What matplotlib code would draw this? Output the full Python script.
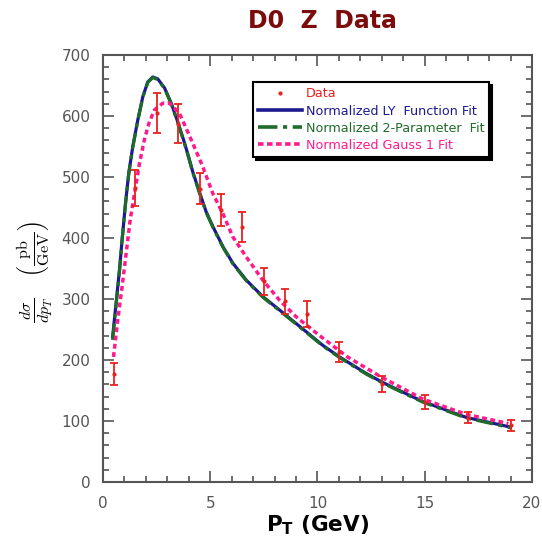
import matplotlib
matplotlib.use("Agg")
import matplotlib.pyplot as plt
from matplotlib.lines import Line2D

plt.rcParams['lines.scale_dashes'] = False

# Data points
data_x = [0.5, 1.5, 2.5, 3.5, 4.5, 5.5, 6.5, 7.5, 8.5, 9.5, 11, 13, 15, 17, 19]
data_y = [177, 482, 605, 587, 481, 446, 418, 329, 296, 275, 213, 161, 131, 105, 93]
data_err = [18, 29, 33, 32, 25, 26, 25, 22, 20, 21, 16, 13, 12, 9, 9]

# Normalized LY function fit
ly_x = [0.45, 0.61, 0.77, 0.89, 1.05, 1.20, 1.39, 1.62, 1.86, 2.09, 2.32, 2.55, 2.87,
        3.18, 3.49, 3.80, 4.0, 4.19, 4.5, 4.81, 5.12, 5.59, 6.05, 6.68, 7.45, 8.23,
        9.0, 10.25, 11.03, 12.27, 13.0, 13.82, 14.91, 15.38, 16.93, 18.49, 19.0]
ly_y = [238, 293, 348, 397, 457, 506, 550, 593, 632, 656, 664, 661, 646,
        621, 590, 556, 532, 508, 475, 443, 419, 386, 359, 331, 304, 282,
        260, 224, 205, 178, 164, 150, 132, 126, 106, 94, 90]

# Normalized 2-parameter fit (practically identical to LY)
tp_x = [0.45, 0.61, 0.77, 0.89, 1.05, 1.20, 1.39, 1.62, 1.86, 2.09, 2.32, 2.55, 2.87,
        3.18, 3.49, 3.80, 4.0, 4.19, 4.5, 4.81, 5.12, 5.59, 6.05, 6.68, 7.45, 8.23,
        9.0, 10.25, 11.03, 12.27, 13.0, 13.82, 14.91, 15.38, 16.93, 18.49, 19.0]
tp_y = [233, 290, 346, 396, 456, 505, 549, 592, 631, 655, 663, 660, 645,
        620, 589, 555, 531, 507, 474, 442, 418, 385, 358, 330, 303, 281,
        259, 223, 204, 177, 163, 149, 131, 125, 105, 93, 89]

# Normalized Gauss 1 fit
g_x = [0.49, 0.69, 0.89, 1.08, 1.27, 1.47, 1.70, 1.93, 2.14, 2.40, 2.79, 3.10, 3.57,
       3.95, 4.19, 4.65, 5.12, 5.59, 6.05, 6.68, 7.45, 8.23, 9.0, 10.1, 11.4, 12.98,
       14.91, 16.93, 18.9]
g_y = [205, 266, 320, 375, 430, 473, 522, 561, 588, 610, 621, 621, 604,
       574, 555, 517, 473, 440, 402, 369, 331, 298, 271, 240, 205, 172,
       136, 111, 96]

fig = plt.figure(figsize=(5.42, 5.49), dpi=100)
ax = fig.add_axes([0.190, 0.122, 0.7915, 0.7778])

red = '#e8211f'
navy = '#1c1a8e'
green = '#1f6b2a'
pink = '#ff1a8c'

ax.plot(ly_x, ly_y, color=navy, lw=2.3, solid_joinstyle='round', zorder=3)
ax.plot(tp_x, tp_y, color=green, lw=2.3, dashes=[12, 4, 3, 4], zorder=4)
ax.plot(g_x, g_y, color=pink, lw=2.5, dashes=[3.5, 2.5], zorder=5)
ax.errorbar(data_x, data_y, yerr=data_err, fmt='.', color=red, ms=4,
            elinewidth=1.3, capsize=3, capthick=1.3, zorder=6)

ax.set_xlim(0, 20)
ax.set_ylim(0, 700)
ax.set_xticks([0, 5, 10, 15, 20])
ax.set_yticks([0, 100, 200, 300, 400, 500, 600, 700])
ax.set_xticks(range(0, 21), minor=True)
ax.set_yticks(range(0, 701, 20), minor=True)
ax.tick_params(which='both', direction='in', top=True, right=True, color='#555555',
               width=1.2, labelcolor='#555555', labelsize=11)
ax.tick_params(which='major', length=8)
ax.tick_params(which='minor', length=4)
ax.tick_params(axis='x', pad=10)
ax.tick_params(axis='y', pad=9)
for s in ax.spines.values():
    s.set_color('#555555')
    s.set_linewidth(1.5)

fig.text(0.594, 0.962, 'D0  Z  Data', ha='center', va='center', fontsize=17,
         fontweight='bold', color='#7a0c0c')

ax.set_xlabel(r'$\mathbf{P_T}$ (GeV)', fontsize=15.5, fontweight='bold', labelpad=2)

plt.rcParams['mathtext.fontset'] = 'cm'
fig.text(0.064, 0.505, r'$\frac{d\sigma}{dp_T}\ \ \ \left(\frac{\rm pb}{\rm GeV}\right)$',
         rotation=90, ha='center', va='center', fontsize=16.5)

handles = [
    Line2D([], [], color=red, marker='.', ms=4, lw=0),
    Line2D([], [], color=navy, lw=2.6),
    Line2D([], [], color=green, lw=2.6, dashes=[14, 4, 3, 4]),
    Line2D([], [], color=pink, lw=2.6, dashes=[4, 2.5]),
]
labels = ['Data', 'Normalized LY  Function Fit', 'Normalized 2-Parameter  Fit',
          'Normalized Gauss 1 Fit']
leg = ax.legend(handles, labels, loc='upper left', bbox_to_anchor=(0.35, 0.936),
                fontsize=9.2, handlelength=3.4, handletextpad=0.3, labelspacing=0.32,
                borderpad=0.4, borderaxespad=0, frameon=True, fancybox=False,
                shadow={'color': 'black', 'alpha': 1.0})
leg.get_frame().set_edgecolor('black')
leg.get_frame().set_linewidth(1.5)
for t, c in zip(leg.get_texts(), [red, navy, green, pink]):
    t.set_color(c)

fig.savefig('out.png', dpi=100)
